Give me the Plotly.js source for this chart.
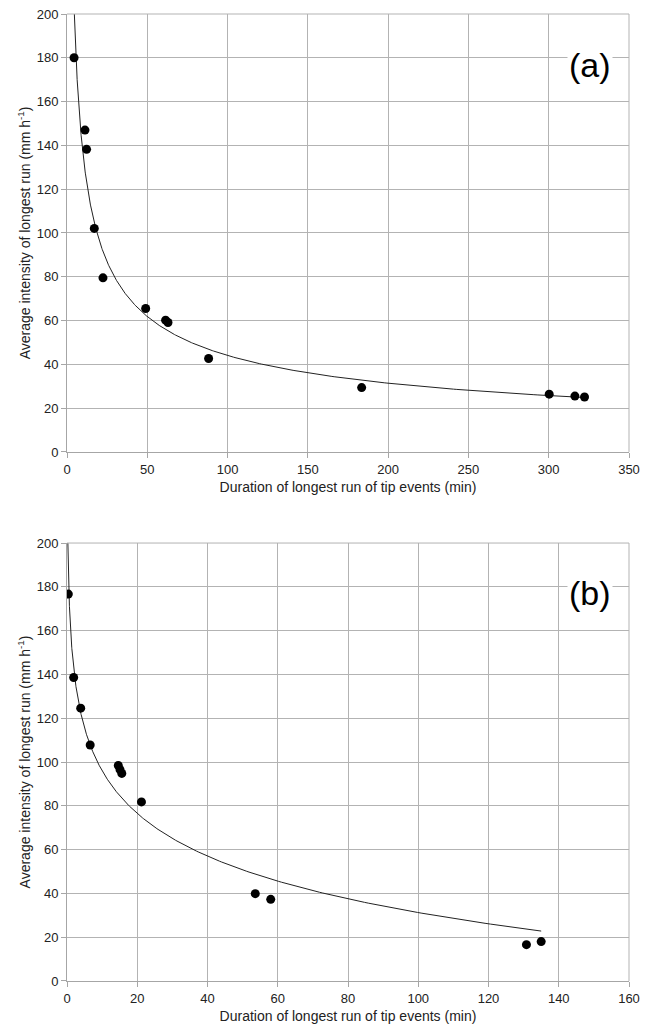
<!DOCTYPE html>
<html>
<head>
<meta charset="utf-8">
<script src="https://cdn.plot.ly/plotly-3.0.1.min.js"></script>
<style>html,body{margin:0;padding:0;background:#fff;}#chart{width:655px;height:1024px;}</style>
</head>
<body>
<div id="chart"></div>
<script>
// Panel (a) data
const durationA = [4.4, 11.2, 12.2, 17.0, 22.4, 49.0, 61.4, 62.9, 88.2, 183.5, 300.3, 316.3, 322.3];
const intensityA = [180.0, 147.0, 138.2, 102.1, 79.5, 65.5, 60.2, 59.1, 42.7, 29.4, 26.4, 25.5, 25.1];
// Panel (b) data
const durationB = [0.38, 1.9, 3.9, 6.6, 14.6, 15.1, 15.6, 21.2, 53.6, 58.0, 130.8, 135.0];
const intensityB = [176.7, 138.6, 124.6, 107.8, 98.4, 96.5, 94.8, 81.8, 39.9, 37.3, 16.6, 18.0];
// Axis ticks
const xTicksA = [0, 50, 100, 150, 200, 250, 300, 350];
const xTicksB = [0, 20, 40, 60, 80, 100, 120, 140, 160];
const yTicks = [0, 20, 40, 60, 80, 100, 120, 140, 160, 180, 200];
const panelLabels = ['(a)', '(b)'];
const xTitle = 'Duration of longest run of tip events (min)';
const yTitle = 'Average intensity of longest run (mm h<sup>-1</sup>)';
const yMax = 200;

// Least-squares trendlines (as a spreadsheet trendline would compute them)
function linfit(X, Y) {
  const n = X.length;
  let sx = 0, sy = 0, sxx = 0, sxy = 0;
  for (let i = 0; i < n; i++) { sx += X[i]; sy += Y[i]; sxx += X[i]*X[i]; sxy += X[i]*Y[i]; }
  const b = (n*sxy - sx*sy) / (n*sxx - sx*sx);
  const a = (sy - b*sx) / n;
  return [a, b];
}
function sample(f, lo, hi) {
  const tx = [], ty = [];
  for (let i = 0; i <= 500; i++) {
    const x = lo * Math.pow(hi/lo, i/500);
    tx.push(x); ty.push(f(x));
  }
  return [tx, ty];
}
function powerTrend(xs, ys) {
  const [la, b] = linfit(xs.map(Math.log), ys.map(Math.log));
  const a = Math.exp(la);
  const f = x => a * Math.pow(x, b);
  const lo = Math.min(Math.min(...xs), Math.pow(yMax / a, 1 / b));
  return sample(f, lo, Math.max(...xs));
}
function logTrend(xs, ys) {
  const [a, b] = linfit(xs.map(Math.log), ys);
  const f = x => a + b*Math.log(x);
  const lo = Math.min(Math.min(...xs), Math.exp((yMax - a) / b));
  return sample(f, lo, Math.max(...xs));
}
const [tAx, tAy] = powerTrend(durationA, intensityA);
const [tBx, tBy] = logTrend(durationB, intensityB);

const gridC = '#b3b3b3';
const font = {family: 'Liberation Sans, Arial, sans-serif', size: 13, color: '#222'};

const traces = [
  {x: tAx, y: tAy, mode: 'lines', line: {color: '#222', width: 1}, xaxis: 'x', yaxis: 'y', hoverinfo: 'skip'},
  {x: durationA, y: intensityA, mode: 'markers', marker: {color: '#000', size: 9}, xaxis: 'x', yaxis: 'y'},
  {x: tBx, y: tBy, mode: 'lines', line: {color: '#222', width: 1}, xaxis: 'x2', yaxis: 'y2', hoverinfo: 'skip'},
  {x: durationB, y: intensityB, mode: 'markers', marker: {color: '#000', size: 9}, xaxis: 'x2', yaxis: 'y2'}
];

function xax(ticks, range, anchor) {
  return {range: range, tickvals: ticks, ticktext: ticks.map(String), anchor: anchor,
    showgrid: true, gridcolor: gridC, gridwidth: 1, zeroline: false,
    showline: true, linecolor: '#a6a6a6', linewidth: 1, mirror: false,
    ticks: 'outside', ticklen: 5, tickcolor: '#a6a6a6', tickfont: font,
    title: {text: xTitle, font: {family: font.family, size: 14, color: '#222'}, standoff: 6}};
}
function yax(range, domain, anchor) {
  return {range: range, tickvals: yTicks, ticktext: yTicks.map(String), domain: domain, anchor: anchor,
    showgrid: true, gridcolor: gridC, gridwidth: 1, zeroline: false,
    showline: true, linecolor: '#a6a6a6', linewidth: 1,
    ticks: 'outside', ticklen: 5, tickcolor: '#a6a6a6', tickfont: font,
    title: {text: yTitle, font: {family: font.family, size: 14, color: '#222'}, standoff: 2}};
}

const layout = {
  width: 655, height: 1024,
  margin: {l: 67, r: 26, t: 14, b: 43},
  paper_bgcolor: '#fff', plot_bgcolor: '#fff',
  showlegend: false,
  xaxis: xax(xTicksA, [0, 350], 'y'),
  yaxis: yax([0, yMax], [0.5471, 1], 'x'),
  xaxis2: xax(xTicksB, [0, 160], 'y2'),
  yaxis2: yax([0, yMax], [0, 0.4529], 'x2'),
  shapes: [
    {type: 'line', xref: 'x domain', yref: 'y domain', x0: 1, x1: 1, y0: 0, y1: 1, line: {color: gridC, width: 1}},
    {type: 'line', xref: 'x domain', yref: 'y domain', x0: 0, x1: 1, y0: 1, y1: 1, line: {color: gridC, width: 1}},
    {type: 'line', xref: 'x2 domain', yref: 'y2 domain', x0: 1, x1: 1, y0: 0, y1: 1, line: {color: gridC, width: 1}},
    {type: 'line', xref: 'x2 domain', yref: 'y2 domain', x0: 0, x1: 1, y0: 1, y1: 1, line: {color: gridC, width: 1}}
  ],
  annotations: [
    {text: panelLabels[0], xref: 'x', yref: 'y', x: 325.7, y: 176.7, showarrow: false, font: {family: font.family, size: 34, color: '#000'}, bgcolor: '#fff'},
    {text: panelLabels[1], xref: 'x2', yref: 'y2', x: 148.9, y: 177.3, showarrow: false, font: {family: font.family, size: 34, color: '#000'}, bgcolor: '#fff'}
  ]
};

Plotly.newPlot('chart', traces, layout, {displayModeBar: false, staticPlot: true});
</script>
</body>
</html>
